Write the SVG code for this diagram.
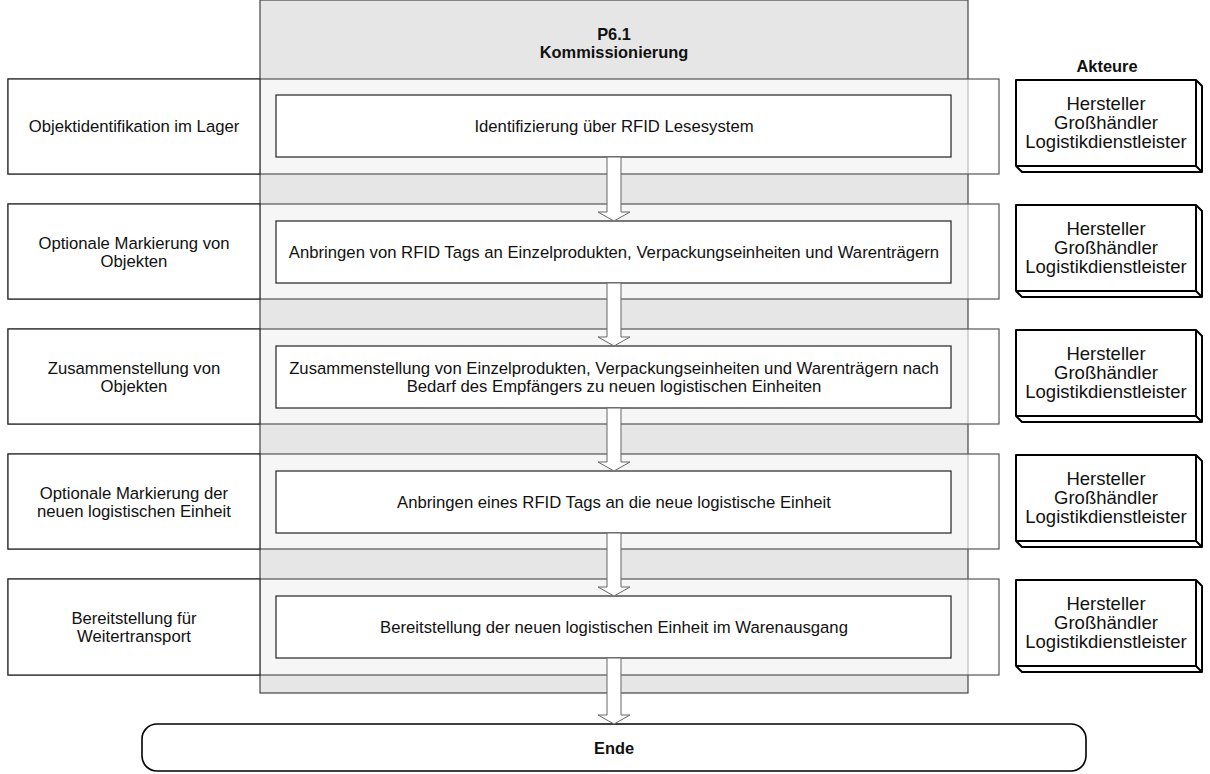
<svg xmlns="http://www.w3.org/2000/svg" width="1210" height="774" viewBox="0 0 1210 774">
<defs>
<style>
text{font-family:"Liberation Sans",Arial,sans-serif;font-size:16.7px;fill:#111;text-anchor:middle}
.b{font-weight:bold;font-size:16.4px}
.a{font-size:18.5px}
.band{fill:#fff;fill-opacity:0.65;stroke:#555;stroke-width:1.2}
.lbl{fill:#fff;stroke:#222;stroke-width:1.2}
.inner{fill:#fff;stroke:#222;stroke-width:1.2}
.act{fill:#fff;stroke:#000;stroke-width:2;stroke-linejoin:round}
.arr{fill:#fff;stroke:#666;stroke-width:1}
</style>
</defs>
<rect x="0" y="0" width="1210" height="774" fill="#fff"/>
<g id="column">
<rect x="260" y="0" width="708" height="693" fill="#e6e6e6" stroke="#444" stroke-width="1.2"/>
<text class="b" x="614" y="40">P6.1</text>
<text class="b" x="614" y="58">Kommissionierung</text>
</g>
<g id="akteure-header"><text class="b" x="1107" y="72">Akteure</text></g>

<g id="row1">
<rect class="band" x="8" y="79" width="991" height="95"/>
<rect class="lbl" x="8" y="79" width="252" height="95"/>
<text x="134" y="132">Objektidentifikation im Lager</text>
<rect class="inner" x="276" y="95" width="675" height="62"/>
<text x="614" y="132">Identifizierung über RFID Lesesystem</text>
</g>
<g id="actor1">
<path class="act" d="M1016,80 H1196 V166 H1016 Z M1196,80 L1202,86 V172 H1022 L1016,166 M1196,166 L1202,172"/>
<text class="a" x="1106" y="110">Hersteller</text><text class="a" x="1106" y="129">Großhändler</text><text class="a" x="1106" y="148">Logistikdienstleister</text>
</g>

<g id="row2">
<rect class="band" x="8" y="204" width="991" height="95"/>
<rect class="lbl" x="8" y="204" width="252" height="95"/>
<text x="134" y="249">Optionale Markierung von</text><text x="134" y="267">Objekten</text>
<rect class="inner" x="276" y="221" width="675" height="62"/>
<text x="614" y="258">Anbringen von RFID Tags an Einzelprodukten, Verpackungseinheiten und Warenträgern</text>
</g>
<g id="actor2">
<path class="act" d="M1016,205 H1196 V291 H1016 Z M1196,205 L1202,211 V297 H1022 L1016,291 M1196,291 L1202,297"/>
<text class="a" x="1106" y="235">Hersteller</text><text class="a" x="1106" y="254">Großhändler</text><text class="a" x="1106" y="273">Logistikdienstleister</text>
</g>

<g id="row3">
<rect class="band" x="8" y="329" width="991" height="95"/>
<rect class="lbl" x="8" y="329" width="252" height="95"/>
<text x="134" y="374">Zusammenstellung von</text><text x="134" y="392">Objekten</text>
<rect class="inner" x="276" y="346" width="675" height="62"/>
<text x="614" y="374">Zusammenstellung von Einzelprodukten, Verpackungseinheiten und Warenträgern nach</text>
<text x="614" y="392">Bedarf des Empfängers zu neuen logistischen Einheiten</text>
</g>
<g id="actor3">
<path class="act" d="M1016,330 H1196 V416 H1016 Z M1196,330 L1202,336 V422 H1022 L1016,416 M1196,416 L1202,422"/>
<text class="a" x="1106" y="360">Hersteller</text><text class="a" x="1106" y="379">Großhändler</text><text class="a" x="1106" y="398">Logistikdienstleister</text>
</g>

<g id="row4">
<rect class="band" x="8" y="454" width="991" height="95"/>
<rect class="lbl" x="8" y="454" width="252" height="95"/>
<text x="134" y="499">Optionale Markierung der</text><text x="134" y="517">neuen logistischen Einheit</text>
<rect class="inner" x="276" y="471" width="675" height="62"/>
<text x="614" y="508">Anbringen eines RFID Tags an die neue logistische Einheit</text>
</g>
<g id="actor4">
<path class="act" d="M1016,455 H1196 V541 H1016 Z M1196,455 L1202,461 V547 H1022 L1016,541 M1196,541 L1202,547"/>
<text class="a" x="1106" y="485">Hersteller</text><text class="a" x="1106" y="504">Großhändler</text><text class="a" x="1106" y="523">Logistikdienstleister</text>
</g>

<g id="row5">
<rect class="band" x="8" y="579" width="991" height="96"/>
<rect class="lbl" x="8" y="579" width="252" height="96"/>
<text x="134" y="624">Bereitstellung für</text><text x="134" y="642">Weitertransport</text>
<rect class="inner" x="276" y="596" width="675" height="62"/>
<text x="614" y="633">Bereitstellung der neuen logistischen Einheit im Warenausgang</text>
</g>
<g id="actor5">
<path class="act" d="M1016,580 H1196 V666 H1016 Z M1196,580 L1202,586 V672 H1022 L1016,666 M1196,666 L1202,672"/>
<text class="a" x="1106" y="610">Hersteller</text><text class="a" x="1106" y="629">Großhändler</text><text class="a" x="1106" y="648">Logistikdienstleister</text>
</g>

<g id="ende">
<rect x="142" y="724" width="944" height="47" rx="15" ry="15" fill="#fff" stroke="#000" stroke-width="1.6"/>
<text class="b" x="614" y="754">Ende</text>
</g>

<g id="connectors">
<path class="arr" d="M607,157 H621 V212 H630 L614,221 L598,212 H607 Z"/>
<path class="arr" d="M607,283 H621 V337 H630 L614,346 L598,337 H607 Z"/>
<path class="arr" d="M607,408 H621 V462 H630 L614,471 L598,462 H607 Z"/>
<path class="arr" d="M607,533 H621 V587 H630 L614,596 L598,587 H607 Z"/>
<path class="arr" d="M607,658 H621 V715 H630 L614,724 L598,715 H607 Z"/>
</g>
</svg>
